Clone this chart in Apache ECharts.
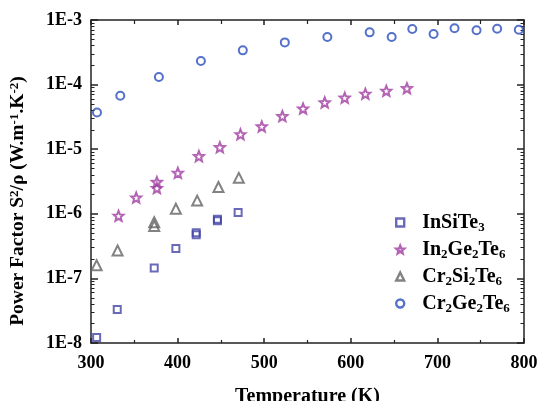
<!DOCTYPE html>
<html><head><meta charset="utf-8">
<script src="https://cdn.jsdelivr.net/npm/echarts@6/dist/echarts.min.js"></script>
<style>html,body{margin:0;padding:0;background:#fff}#c{width:540px;height:401px}</style>
</head><body><div id="c"></div>
<script>
// Temperature (K) and power factor S^2/rho (W m^-1 K^-2)
const inSiTe3_T = [306.5, 330.3, 373, 398, 421.5, 421.5, 446, 446, 469.9];
const inSiTe3_PF = [1.22e-8, 3.3e-8, 1.45e-7, 2.9e-7, 4.75e-7, 5.1e-7, 8.2e-7, 7.8e-7, 1.05e-6];

const in2Ge2Te6_T = [331.8, 352.2, 376.1, 376.1, 400.3, 424.6, 448.8, 472.6, 497.2, 521, 544.9, 569.9, 593, 616.8, 641, 664.8];
const in2Ge2Te6_PF = [9.3e-7, 1.78e-6, 3.1e-6, 2.5e-6, 4.3e-6, 7.8e-6, 1.07e-5, 1.7e-5, 2.25e-5, 3.25e-5, 4.25e-5, 5.3e-5, 6.25e-5, 7.2e-5, 8.0e-5, 8.8e-5];

const cr2Si2Te6_T = [306.5, 330.7, 373, 373, 398, 422.6, 447.2, 470.7];
const cr2Si2Te6_PF = [1.6e-7, 2.7e-7, 7.4e-7, 6.5e-7, 1.2e-6, 1.6e-6, 2.6e-6, 3.6e-6];

const cr2Ge2Te6_T = [306.9, 333.8, 378.4, 426.9, 475.3, 523.8, 572.9, 621.8, 647.2, 671, 695.6, 719.8, 745.2, 769, 794];
const cr2Ge2Te6_PF = [3.7e-5, 6.7e-5, 1.31e-4, 2.32e-4, 3.39e-4, 4.5e-4, 5.46e-4, 6.44e-4, 5.46e-4, 7.26e-4, 6.07e-4, 7.43e-4, 6.92e-4, 7.34e-4, 7.08e-4];

const seriesNames = ['InSiTe3', 'In2Ge2Te6', 'Cr2Si2Te6', 'Cr2Ge2Te6'];
const legendRich = {
  'InSiTe3': 'InSiTe{sub|3}',
  'In2Ge2Te6': 'In{sub|2}Ge{sub|2}Te{sub|6}',
  'Cr2Si2Te6': 'Cr{sub|2}Si{sub|2}Te{sub|6}',
  'Cr2Ge2Te6': 'Cr{sub|2}Ge{sub|2}Te{sub|6}'
};
const xTicks = [300, 400, 500, 600, 700, 800];
const yDecades = [1e-8, 1e-7, 1e-6, 1e-5, 1e-4];
const minorMultipliers = [2, 3, 4, 5, 6, 7, 8, 9];

const yMinor = [];
yDecades.forEach(d => minorMultipliers.forEach(m => yMinor.push(d * m)));

function zip(a, b) { return a.map((v, i) => [v, b[i]]); }

// star path
let sp = 'path://';
for (let i = 0; i < 10; i++) {
  const r = i % 2 === 0 ? 10 : 4.4;
  const a = -Math.PI / 2 + i * Math.PI / 5;
  sp += (i === 0 ? 'M' : 'L') + (10 + r * Math.cos(a)).toFixed(2) + ' ' + (10 + r * Math.sin(a)).toFixed(2) + ' ';
}
sp += 'Z';

const FONT = '"Liberation Serif","Times New Roman",serif';
const cols = ['#4444a8', '#a03ca0', '#636363', '#2a4dbd'];
const syms = ['rect', sp, 'triangle', 'circle'];
const sizes = [7, 10, 10, 8];
const datasets = [zip(inSiTe3_T, inSiTe3_PF), zip(in2Ge2Te6_T, in2Ge2Te6_PF), zip(cr2Si2Te6_T, cr2Si2Te6_PF), zip(cr2Ge2Te6_T, cr2Ge2Te6_PF)];

const axisLineStyle = { color: '#222', width: 1.5 };
const minorStyle = { color: '#222', width: 1 };
function minorAxis(pos) {
  return {
    type: 'log', logBase: 10, min: 1e-8, max: 1e-3, position: pos, offset: 0,
    axisLine: { show: false },
    axisTick: { show: true, inside: true, length: 3.5, lineStyle: minorStyle, customValues: yMinor },
    splitLine: { show: false }, axisLabel: { show: false }
  };
}
const chart = echarts.init(document.getElementById('c'), null, { renderer: 'canvas' });
chart.setOption({
  animation: false,
  grid: { left: 91, right: 16, top: 20, bottom: 58, containLabel: false, outerBoundsMode: 'none' },
  xAxis: [{
    type: 'value', min: 300, max: 800, interval: 100,
    axisLine: { lineStyle: axisLineStyle },
    axisTick: { inside: true, length: 5, lineStyle: axisLineStyle },
    minorTick: { show: true, splitNumber: 2, length: 3, lineStyle: { color: '#222', width: 1.2 } },
    splitLine: { show: false },
    axisLabel: { fontFamily: FONT, fontWeight: 'bold', fontSize: 18, color: '#000', margin: 11,
      formatter: v => xTicks.includes(v) ? String(v) : '' },
    name: 'Temperature (K)', nameLocation: 'middle', nameGap: 44,
    nameTextStyle: { fontFamily: FONT, fontWeight: 'bold', fontSize: 20, color: '#000' }
  }, {
    type: 'value', min: 300, max: 800, interval: 100, position: 'top',
    axisLine: { lineStyle: axisLineStyle },
    axisTick: { inside: true, length: 5, lineStyle: axisLineStyle },
    minorTick: { show: true, splitNumber: 2, length: 4, lineStyle: { color: '#222', width: 1.2 } },
    splitLine: { show: false }, axisLabel: { show: false }
  }],
  yAxis: [{
    type: 'log', logBase: 10, min: 1e-8, max: 1e-3,
    axisLine: { lineStyle: axisLineStyle },
    axisTick: { inside: true, length: 7, lineStyle: axisLineStyle },
    splitLine: { show: false },
    axisLabel: { fontFamily: FONT, fontWeight: 'bold', fontSize: 18, color: '#000', margin: 9,
      formatter: v => '1E' + Math.round(Math.log10(v)) }
  }, {
    type: 'log', logBase: 10, min: 1e-8, max: 1e-3, position: 'right',
    axisLine: { lineStyle: axisLineStyle },
    axisTick: { inside: true, length: 7, lineStyle: axisLineStyle },
    splitLine: { show: false }, axisLabel: { show: false }
  }, minorAxis('left'), minorAxis('right')],
  legend: {
    orient: 'vertical', left: 390, top: 206, itemWidth: 8, itemHeight: 8, itemGap: 4,
    data: seriesNames,
    itemStyle: { borderWidth: 2.4 },
    formatter: n => legendRich[n],
    textStyle: {
      fontFamily: FONT, fontWeight: 'bold', fontSize: 20, color: '#000', lineHeight: 23, padding: [0, 0, 0, 13],
      rich: {
        sub: { fontFamily: FONT, fontWeight: 'bold', fontSize: 13, lineHeight: 13, padding: [10, 0, 0, 0], verticalAlign: 'bottom', color: '#000' }
      }
    }
  },
  graphic: [{
    type: 'text', x: 18, y: 201, rotation: Math.PI / 2,
    style: {
      text: 'Power Factor S{sup|2}/ρ (W.m{sup|-1}.K{sup|-2})',
      font: 'bold 19.5px ' + FONT, fill: '#000', align: 'center', verticalAlign: 'middle',
      rich: {
        sup: { font: 'bold 13px ' + FONT, fill: '#000', lineHeight: 13, padding: [0, 0, 10, 0], verticalAlign: 'top' }
      }
    }
  }],
  series: datasets.map((d, i) => ({
    name: seriesNames[i], type: 'scatter', data: d, symbol: syms[i], symbolSize: sizes[i],
    itemStyle: { color: 'rgba(255,255,255,0)', borderColor: cols[i], borderWidth: 2 }
  }))
});
</script></body></html>
